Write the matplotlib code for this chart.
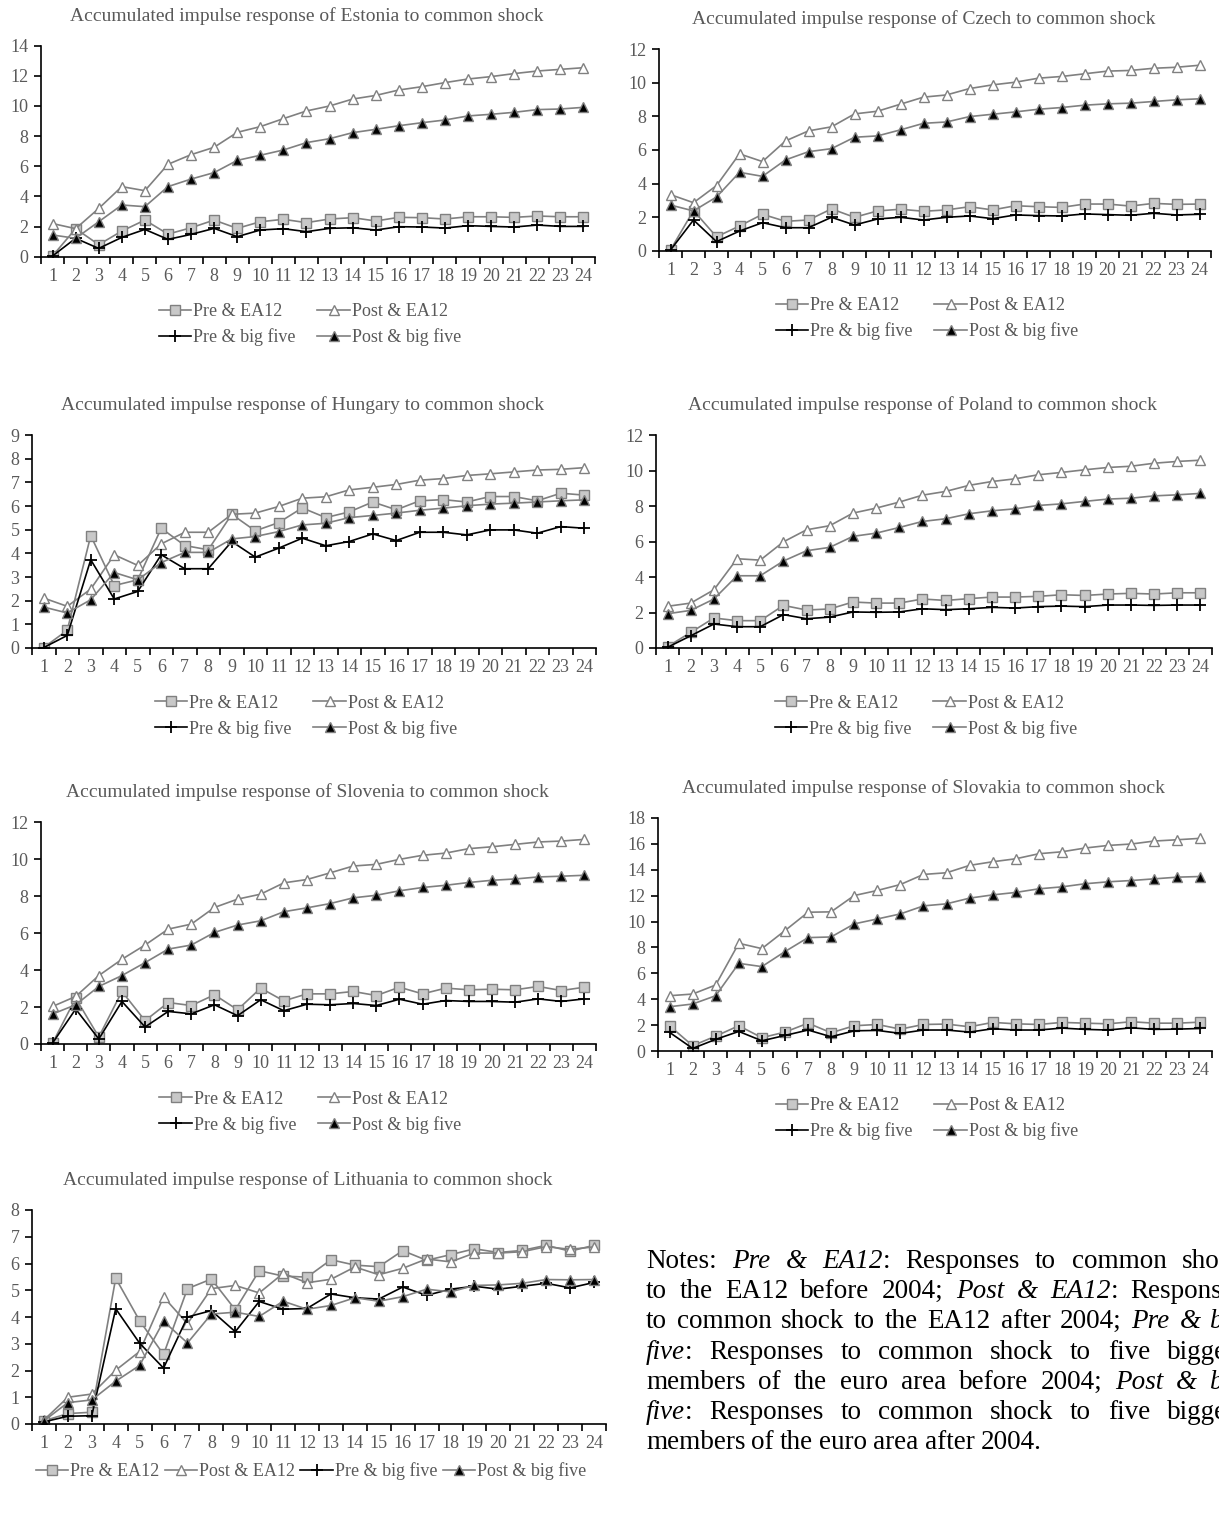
import matplotlib
matplotlib.use('Agg')
import matplotlib.pyplot as plt
import numpy as np

plt.rcParams['font.family'] = ['Liberation Serif', 'DejaVu Serif']

W, H = 1219, 1516

periods = list(range(1, 25))
series_labels = ['Pre & EA12', 'Post & EA12', 'Pre & big five', 'Post & big five']

# Estonia
estonia_pre_ea12 = [0.05, 1.86, 0.80, 1.70, 2.43, 1.50, 1.92, 2.43, 1.88, 2.32, 2.48, 2.26, 2.50, 2.59, 2.37, 2.61, 2.59, 2.50, 2.65, 2.65, 2.61, 2.70, 2.65, 2.65]
estonia_post_ea12 = [2.20, 1.86, 3.20, 4.65, 4.38, 6.13, 6.77, 7.26, 8.25, 8.63, 9.16, 9.67, 10.00, 10.46, 10.70, 11.06, 11.28, 11.55, 11.79, 11.95, 12.15, 12.32, 12.43, 12.54]
estonia_pre_big5 = [0.05, 1.22, 0.55, 1.28, 1.81, 1.15, 1.48, 1.88, 1.33, 1.77, 1.86, 1.66, 1.88, 1.92, 1.77, 1.99, 1.97, 1.90, 2.06, 2.01, 1.97, 2.10, 2.01, 2.01]
estonia_post_big5 = [1.44, 1.22, 2.32, 3.43, 3.32, 4.65, 5.15, 5.58, 6.39, 6.73, 7.08, 7.57, 7.83, 8.23, 8.45, 8.69, 8.89, 9.07, 9.34, 9.45, 9.58, 9.76, 9.80, 9.91]

# Czech
czech_pre_ea12 = [0.05, 2.39, 0.83, 1.47, 2.17, 1.75, 1.83, 2.49, 1.99, 2.37, 2.47, 2.35, 2.43, 2.62, 2.43, 2.68, 2.62, 2.58, 2.78, 2.78, 2.66, 2.82, 2.76, 2.78]
czech_post_ea12 = [3.34, 2.86, 3.88, 5.77, 5.31, 6.54, 7.14, 7.38, 8.15, 8.31, 8.73, 9.15, 9.28, 9.66, 9.88, 10.04, 10.28, 10.38, 10.54, 10.70, 10.74, 10.87, 10.93, 11.05]
czech_pre_big5 = [0.04, 1.83, 0.54, 1.17, 1.67, 1.37, 1.37, 1.99, 1.53, 1.89, 1.99, 1.83, 1.99, 2.07, 1.91, 2.13, 2.09, 2.07, 2.19, 2.15, 2.11, 2.23, 2.13, 2.17]
czech_post_big5 = [2.72, 2.37, 3.20, 4.67, 4.43, 5.41, 5.90, 6.08, 6.76, 6.84, 7.20, 7.59, 7.67, 7.99, 8.13, 8.27, 8.43, 8.53, 8.67, 8.75, 8.79, 8.89, 8.99, 9.05]

# Hungary
hungary_pre_ea12 = [0.02, 0.75, 4.75, 2.64, 2.88, 5.06, 4.33, 4.15, 5.65, 4.95, 5.30, 5.92, 5.51, 5.75, 6.17, 5.84, 6.22, 6.27, 6.17, 6.40, 6.40, 6.22, 6.54, 6.46]
hungary_post_ea12 = [2.11, 1.76, 2.49, 3.94, 3.49, 4.40, 4.89, 4.89, 5.65, 5.70, 5.98, 6.33, 6.39, 6.68, 6.79, 6.91, 7.09, 7.16, 7.29, 7.36, 7.44, 7.52, 7.55, 7.62]
hungary_pre_big5 = [0.02, 0.53, 3.73, 2.07, 2.39, 3.94, 3.35, 3.35, 4.50, 3.84, 4.22, 4.64, 4.32, 4.50, 4.82, 4.54, 4.89, 4.89, 4.78, 4.99, 4.99, 4.85, 5.13, 5.06]
hungary_post_big5 = [1.73, 1.48, 2.04, 3.19, 2.88, 3.61, 4.04, 4.04, 4.61, 4.71, 4.92, 5.20, 5.27, 5.51, 5.60, 5.70, 5.82, 5.91, 6.01, 6.08, 6.12, 6.17, 6.22, 6.26]

# Poland
poland_pre_ea12 = [0.08, 0.88, 1.69, 1.54, 1.54, 2.40, 2.14, 2.20, 2.59, 2.53, 2.53, 2.76, 2.68, 2.78, 2.87, 2.87, 2.91, 3.00, 2.96, 3.04, 3.08, 3.04, 3.11, 3.11]
poland_post_ea12 = [2.35, 2.53, 3.28, 5.03, 4.95, 5.98, 6.66, 6.89, 7.60, 7.88, 8.22, 8.61, 8.82, 9.16, 9.38, 9.53, 9.76, 9.89, 10.04, 10.17, 10.24, 10.41, 10.51, 10.58]
poland_pre_big5 = [0.04, 0.69, 1.35, 1.20, 1.20, 1.88, 1.65, 1.74, 2.03, 2.01, 2.03, 2.21, 2.16, 2.21, 2.29, 2.25, 2.33, 2.36, 2.33, 2.42, 2.42, 2.40, 2.42, 2.42]
poland_post_big5 = [1.93, 2.12, 2.76, 4.07, 4.07, 4.90, 5.48, 5.67, 6.29, 6.47, 6.79, 7.13, 7.28, 7.56, 7.73, 7.84, 8.03, 8.12, 8.26, 8.39, 8.44, 8.57, 8.63, 8.71]

# Slovenia
slovenia_pre_ea12 = [0.05, 2.48, 0.38, 2.84, 1.26, 2.24, 2.08, 2.66, 1.85, 3.02, 2.33, 2.71, 2.71, 2.84, 2.62, 3.07, 2.71, 3.02, 2.93, 2.96, 2.93, 3.11, 2.89, 3.07]
slovenia_post_ea12 = [2.03, 2.57, 3.70, 4.58, 5.35, 6.21, 6.48, 7.38, 7.83, 8.10, 8.71, 8.89, 9.25, 9.62, 9.71, 9.98, 10.20, 10.32, 10.56, 10.66, 10.79, 10.92, 10.97, 11.06]
slovenia_pre_big5 = [0.05, 1.89, 0.27, 2.30, 0.92, 1.76, 1.63, 2.12, 1.53, 2.39, 1.80, 2.15, 2.12, 2.19, 2.08, 2.42, 2.15, 2.35, 2.30, 2.30, 2.26, 2.44, 2.30, 2.44]
slovenia_post_big5 = [1.62, 2.12, 3.11, 3.70, 4.40, 5.13, 5.35, 6.03, 6.43, 6.66, 7.15, 7.36, 7.59, 7.90, 8.04, 8.28, 8.46, 8.58, 8.73, 8.85, 8.92, 9.03, 9.07, 9.12]

# Slovakia
slovakia_pre_ea12 = [1.95, 0.41, 1.15, 1.95, 1.03, 1.46, 2.15, 1.41, 1.95, 2.05, 1.69, 2.05, 2.08, 1.87, 2.21, 2.10, 2.05, 2.21, 2.15, 2.10, 2.26, 2.15, 2.15, 2.23]
slovakia_post_ea12 = [4.27, 4.40, 5.10, 8.32, 7.91, 9.30, 10.72, 10.75, 12.01, 12.40, 12.86, 13.64, 13.77, 14.34, 14.62, 14.85, 15.24, 15.39, 15.68, 15.88, 15.99, 16.22, 16.32, 16.43]
slovakia_pre_big5 = [1.44, 0.20, 0.90, 1.51, 0.79, 1.20, 1.62, 1.10, 1.56, 1.59, 1.36, 1.62, 1.62, 1.46, 1.72, 1.62, 1.62, 1.77, 1.67, 1.62, 1.79, 1.67, 1.69, 1.74]
slovakia_post_big5 = [3.42, 3.63, 4.27, 6.77, 6.52, 7.68, 8.76, 8.81, 9.82, 10.20, 10.59, 11.21, 11.37, 11.81, 12.06, 12.25, 12.53, 12.68, 12.92, 13.07, 13.17, 13.30, 13.43, 13.48]

# Lithuania
lithuania_pre_ea12 = [0.12, 0.39, 0.44, 5.45, 3.86, 2.60, 5.06, 5.42, 4.27, 5.73, 5.53, 5.49, 6.14, 5.94, 5.88, 6.48, 6.12, 6.33, 6.55, 6.41, 6.49, 6.68, 6.46, 6.68]
lithuania_post_ea12 = [0.15, 1.00, 1.12, 2.01, 2.71, 4.75, 3.75, 5.06, 5.18, 4.90, 5.63, 5.28, 5.41, 5.87, 5.58, 5.82, 6.17, 6.06, 6.39, 6.39, 6.44, 6.63, 6.53, 6.62]
lithuania_pre_big5 = [0.08, 0.29, 0.31, 4.31, 3.02, 2.09, 4.00, 4.24, 3.45, 4.58, 4.29, 4.32, 4.86, 4.72, 4.67, 5.12, 4.81, 5.04, 5.15, 5.04, 5.15, 5.26, 5.09, 5.29]
lithuania_post_big5 = [0.12, 0.80, 0.90, 1.60, 2.19, 3.84, 3.03, 4.11, 4.18, 4.02, 4.59, 4.29, 4.43, 4.72, 4.59, 4.76, 5.04, 4.94, 5.18, 5.20, 5.26, 5.40, 5.39, 5.40]

notes_lines = [
    "Notes: *Pre & EA12*: Responses to common shock",
    "to the EA12 before 2004; *Post & EA12*: Responses",
    "to common shock to the EA12 after 2004; *Pre & big*",
    "*five*: Responses to common shock to five biggest",
    "members of the euro area before 2004; *Post & big*",
    "*five*: Responses to common shock to five biggest",
    "members of the euro area after 2004.",
]

GREY = '#808080'
TEXT_GREY = '#595959'
styles = [
    dict(color=GREY, marker='s', markersize=7, markerfacecolor='#c8c8c8', markeredgecolor=GREY),
    dict(color=GREY, marker='^', markersize=7, markerfacecolor='white', markeredgecolor=GREY),
    dict(color='black', marker='+', markersize=8, markeredgewidth=1.3, markeredgecolor='black'),
    dict(color=GREY, marker='^', markersize=7, markerfacecolor='black', markeredgecolor=GREY),
]

# name, data, pixel box (left, top, right, bottom), ymax, ystep, legend ncol
panels = [
    ('Estonia', [estonia_pre_ea12, estonia_post_ea12, estonia_pre_big5, estonia_post_big5],
     (41, 45.7, 595, 256.7), 14, 2, 2),
    ('Czech', [czech_pre_ea12, czech_post_ea12, czech_pre_big5, czech_post_big5],
     (659, 49.3, 1211, 250.7), 12, 2, 2),
    ('Hungary', [hungary_pre_ea12, hungary_post_ea12, hungary_pre_big5, hungary_post_big5],
     (32, 435, 596, 648), 9, 1, 2),
    ('Poland', [poland_pre_ea12, poland_post_ea12, poland_pre_big5, poland_post_big5],
     (656, 435, 1212, 648), 12, 2, 2),
    ('Slovenia', [slovenia_pre_ea12, slovenia_post_ea12, slovenia_pre_big5, slovenia_post_big5],
     (41, 822, 596, 1044), 12, 2, 2),
    ('Slovakia', [slovakia_pre_ea12, slovakia_post_ea12, slovakia_pre_big5, slovakia_post_big5],
     (658, 818, 1212, 1051), 18, 2, 2),
    ('Lithuania', [lithuania_pre_ea12, lithuania_post_ea12, lithuania_pre_big5, lithuania_post_big5],
     (32, 1210, 606, 1424), 8, 1, 4),
]

fig = plt.figure(figsize=(W / 100, H / 100), dpi=100)

for name, data, (l, t, r, b), ymax, ystep, ncol in panels:
    ax = fig.add_axes([l / W, 1 - b / H, (r - l) / W, (b - t) / H])
    lines = []
    for values, label, st in zip(data, series_labels, styles):
        ln, = ax.plot(periods, values, label=label, linewidth=1.2, **st)
        lines.append(ln)

    ax.set_xlim(0.5, 24.5)
    ax.set_ylim(0, ymax)
    ax.set_yticks(np.arange(0, ymax + 0.01, ystep))
    ax.set_xticks(periods)
    ax.set_xticks(np.arange(0.5, 25, 1), minor=True)
    ax.tick_params(axis='x', which='major', length=0, pad=8, labelsize=13, labelcolor=TEXT_GREY)
    ax.tick_params(axis='x', which='minor', length=5, width=1.2, direction='out')
    ax.tick_params(axis='y', length=5, width=1.2, direction='out', pad=4, labelsize=13, labelcolor=TEXT_GREY)
    for side in ['top', 'right']:
        ax.spines[side].set_visible(False)
    for side in ['left', 'bottom']:
        ax.spines[side].set_linewidth(1.2)

    cx = (l + r) / 2 - 11
    fig.text(cx / W, 1 - (t - 30) / H, f'Accumulated impulse response of {name} to common shock',
             ha='center', va='center', color=TEXT_GREY, fontsize=14)

    if ncol == 2:
        # row-major order: Pre & EA12, Post & EA12 / Pre & big five, Post & big five
        order = [0, 2, 1, 3]
        leg_y = b + 68
        colsp = 1.2
    else:
        order = [0, 1, 2, 3]
        leg_y = b + 47
        colsp = 0.3
    ax.legend([lines[k] for k in order], [series_labels[k] for k in order],
              loc='center', bbox_to_anchor=((cx + 3) / W, 1 - leg_y / H), bbox_transform=fig.transFigure,
              ncol=ncol, frameon=False, fontsize=13, labelcolor=TEXT_GREY, handlelength=1.8,
              handletextpad=0.1, columnspacing=colsp, labelspacing=0.45, borderpad=0)

# notes, justified like the source text block
renderer = fig.canvas.get_renderer()
x0, x1 = 646, 1245
line_y0, line_step = 1268, 30.2
italic = False
for i, line in enumerate(notes_lines):
    words = []
    for word in line.split(' '):
        pieces, buf = [], ''
        for ch in word:
            if ch == '*':
                if buf:
                    pieces.append((buf, italic))
                    buf = ''
                italic = not italic
            else:
                buf += ch
        if buf:
            pieces.append((buf, italic))
        words.append(pieces)

    y = 1 - (line_y0 + i * line_step) / H
    placed = []
    for pieces in words:
        objs = []
        for txt, it in pieces:
            tobj = fig.text(0, y, txt, fontsize=19.5, style='italic' if it else 'normal',
                            color='black', va='baseline', ha='left')
            objs.append((tobj, tobj.get_window_extent(renderer).width))
        placed.append(objs)
    widths = [sum(w for _, w in objs) for objs in placed]
    if i < len(notes_lines) - 1:
        gap = (x1 - x0 - sum(widths)) / (len(words) - 1)
    else:
        gap = 6
    x = x0
    for objs, wsum in zip(placed, widths):
        xx = x
        for tobj, w in objs:
            tobj.set_x(xx / W)
            xx += w
        x += wsum + gap

fig.savefig('out.png', dpi=100)
